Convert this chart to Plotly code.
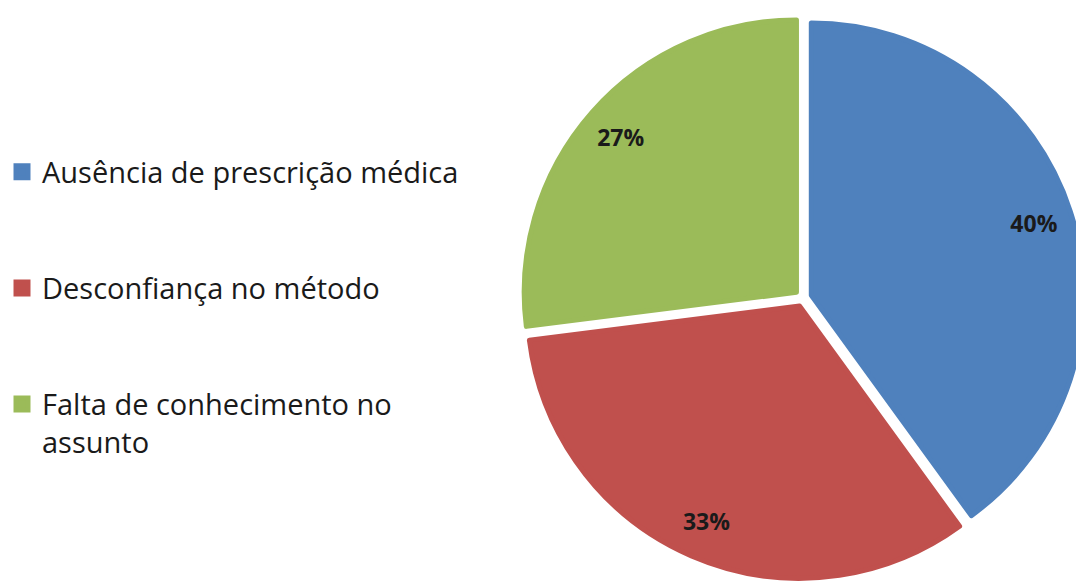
import plotly.graph_objects as go

labels = ["Ausência de prescrição médica", "Desconfiança no método", "Falta de conhecimento no assunto"]
legend_labels = ["Ausência de prescrição médica<br> <br> ", "Desconfiança no método<br> <br> ", "Falta de conhecimento no<br>assunto"]
values = [40, 33, 27]
colors = ["#4F81BD", "#C0504D", "#9BBB59"]

OFF = 8  # default page body margin around the figure
W, H = 1084 - OFF, 582 - OFF
PULL = 0.032
dom_x = [0.4777, 1.0]
dom_y = [0.0, 0.9895]

fig = go.Figure()

# main pie (colored slices, provides the legend)
fig.add_trace(go.Pie(
    labels=legend_labels,
    values=values,
    sort=False,
    direction="clockwise",
    rotation=0,
    pull=[PULL] * len(values),
    marker=dict(colors=colors, line=dict(color=colors, width=5)),
    textinfo="none",
    hoverinfo="skip",
    domain=dict(x=dom_x, y=dom_y),
    showlegend=True,
))

# transparent ring carrying the percentage labels near the rim
fig.add_trace(go.Pie(
    labels=legend_labels,
    values=values,
    sort=False,
    direction="clockwise",
    rotation=0,
    hole=0.72,
    pull=[PULL] * len(values),
    marker=dict(colors=["rgba(0,0,0,0)"] * len(values), line=dict(width=0)),
    texttemplate="%{percent:.0%}",
    textposition="inside",
    insidetextorientation="horizontal",
    textfont=dict(family="Open Sans", size=23, color="#1a1a1a", weight="bold"),
    hoverinfo="skip",
    domain=dict(x=dom_x, y=dom_y),
    showlegend=False,
))

fig.update_layout(
    width=W,
    height=H,
    margin=dict(l=0, r=0, t=0, b=0),
    paper_bgcolor="white",
    plot_bgcolor="white",
    legend=dict(
        x=0, y=1 - (146.5 - OFF) / H, xanchor="left", yanchor="top",
        indentation=-6,
        font=dict(family="Open Sans", size=29, color="#1a1a1a"),
        valign="top",
        bgcolor="rgba(0,0,0,0)",
        borderwidth=0,
        traceorder="normal",
    ),
)

fig.write_html("out.html")
